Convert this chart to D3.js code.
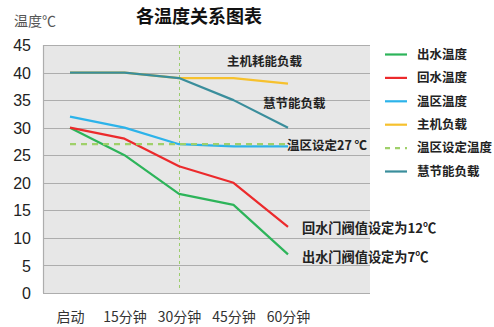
<!DOCTYPE html>
<html>
<head>
<meta charset="utf-8">
<script src="https://cdn.jsdelivr.net/npm/d3@7/dist/d3.min.js"></script>
<style>
  html, body { margin: 0; padding: 0; background: #fff; }
  svg { display: block; }
</style>
</head>
<body>
<svg id="chart" width="494" height="327"></svg>
<script>
// Time points after start-up
const categories = ["启动", "15分钟", "30分钟", "45分钟", "60分钟"];

// Temperatures / loads at each time point
const outletTemp   = [30, 25, 18, 16, 7];      // 出水温度
const returnTemp   = [30, 28, 23, 20, 12];     // 回水温度
const zoneTemp     = [32, 30, 27, 26.6, 26.6]; // 温区温度
const hostLoad     = [40, 40, 39, 39, 38];     // 主机负载
const zoneSetpoint = [27, 27, 27, 27, 27];     // 温区设定温度
const smartLoad    = [40, 40, 39, 35, 30];     // 慧节能负载

const yTicks = [0, 5, 10, 15, 20, 25, 30, 35, 40, 45];

const series = [
  { name: "出水温度",     values: outletTemp,   color: "#2db45a", dash: null },
  { name: "回水温度",     values: returnTemp,   color: "#ec2a2c", dash: null },
  { name: "温区温度",     values: zoneTemp,     color: "#2cb3ea", dash: null },
  { name: "主机负载",     values: hostLoad,     color: "#f6c12e", dash: null },
  { name: "温区设定温度", values: zoneSetpoint, color: "#9fd06a", dash: "6,5" },
  { name: "慧节能负载",   values: smartLoad,    color: "#3a8e9c", dash: null }
];

const svg = d3.select("#chart");
const cjk = "'Noto Sans CJK SC', 'Noto Sans', sans-serif";
const latin = "'Liberation Sans', Arial, sans-serif";

const plot = { left: 43, right: 370, top: 45, bottom: 293 };

const x = d3.scalePoint().domain(categories).range([70, 288]);
const y = d3.scaleLinear().domain([0, 45]).range([plot.bottom, plot.top]);

// plot background
svg.append("rect")
  .attr("x", plot.left).attr("y", plot.top)
  .attr("width", plot.right - plot.left).attr("height", plot.bottom - plot.top)
  .attr("fill", "#e7e7e7");

// horizontal gridlines
svg.append("g").selectAll("line").data(yTicks).join("line")
  .attr("x1", plot.left).attr("x2", plot.right)
  .attr("y1", d => Math.round(y(d)) + 0.5).attr("y2", d => Math.round(y(d)) + 0.5)
  .attr("stroke", "#adadad").attr("stroke-width", 1.2);

// left edge
svg.append("line")
  .attr("x1", plot.left + 0.5).attr("x2", plot.left + 0.5)
  .attr("y1", plot.top).attr("y2", plot.bottom)
  .attr("stroke", "#adadad").attr("stroke-width", 1.2);

// y axis labels
const yAxis = d3.axisLeft(y).tickValues(yTicks).tickSize(0).tickPadding(0);
svg.append("g")
  .attr("transform", `translate(31,0)`)
  .call(yAxis)
  .call(g => g.select(".domain").remove())
  .selectAll("text")
  .attr("font-family", latin).attr("font-size", 16).attr("fill", "#222")
  .attr("dy", "0.35em");

// x axis labels
const xAxis = d3.axisBottom(x).tickSize(0).tickPadding(0);
svg.append("g")
  .attr("transform", `translate(0,317)`)
  .call(xAxis)
  .call(g => g.select(".domain").remove())
  .selectAll("text")
  .attr("font-family", cjk).attr("font-size", 14).attr("fill", "#333")
  .attr("dy", "0.35em");

// vertical marker at 30 minutes
svg.append("line")
  .attr("x1", x("30分钟") + 0.5).attr("x2", x("30分钟") + 0.5)
  .attr("y1", plot.top).attr("y2", plot.bottom - 2)
  .attr("stroke", "#9ccd6e").attr("stroke-width", 1)
  .attr("stroke-dasharray", "3,3");

// series lines
const line = d3.line()
  .x((d, i) => x(categories[i]))
  .y(d => y(d));

svg.append("g").selectAll("path").data(series).join("path")
  .attr("d", d => line(d.values))
  .attr("fill", "none")
  .attr("stroke", d => d.color)
  .attr("stroke-width", 2.2)
  .attr("stroke-dasharray", d => d.dash)
  .attr("stroke-linejoin", "round");

// annotations
const notes = [
  { text: "主机耗能负载", x: 227, y: 62, size: 12.5 },
  { text: "慧节能负载", x: 263, y: 104, size: 12.5 },
  { text: "温区设定27 ℃", x: 287, y: 146, size: 12.5 },
  { text: "回水门阀值设定为12℃", x: 302, y: 228, size: 13.2 },
  { text: "出水门阀值设定为7℃", x: 302, y: 257, size: 13.2 }
];
svg.append("g").selectAll("text").data(notes).join("text")
  .attr("x", d => d.x).attr("y", d => d.y)
  .attr("dy", "0.35em")
  .attr("font-family", cjk).attr("font-size", d => d.size).attr("font-weight", 700)
  .attr("fill", "#222")
  .text(d => d.text);

// title and unit
svg.append("text")
  .attr("x", 199).attr("y", 17).attr("dy", "0.35em")
  .attr("text-anchor", "middle")
  .attr("font-family", cjk).attr("font-size", 18).attr("font-weight", 700)
  .attr("fill", "#111")
  .text("各温度关系图表");

svg.append("text")
  .attr("x", 14).attr("y", 21).attr("dy", "0.35em")
  .attr("font-family", cjk).attr("font-size", 14)
  .attr("fill", "#555")
  .text("温度℃");

// legend
const legend = svg.append("g").selectAll("g").data(series).join("g")
  .attr("transform", (d, i) => `translate(385,${54.5 + i * 23.4})`);
legend.append("line")
  .attr("x1", 0).attr("x2", 22).attr("y1", 0).attr("y2", 0)
  .attr("stroke", d => d.color).attr("stroke-width", 2.2)
  .attr("stroke-dasharray", d => d.dash ? "5,5" : null);
legend.append("text")
  .attr("x", 32).attr("y", 0).attr("dy", "0.35em")
  .attr("font-family", cjk).attr("font-size", 12.5).attr("font-weight", 700)
  .attr("fill", "#222")
  .text(d => d.name);
</script>
</body>
</html>
